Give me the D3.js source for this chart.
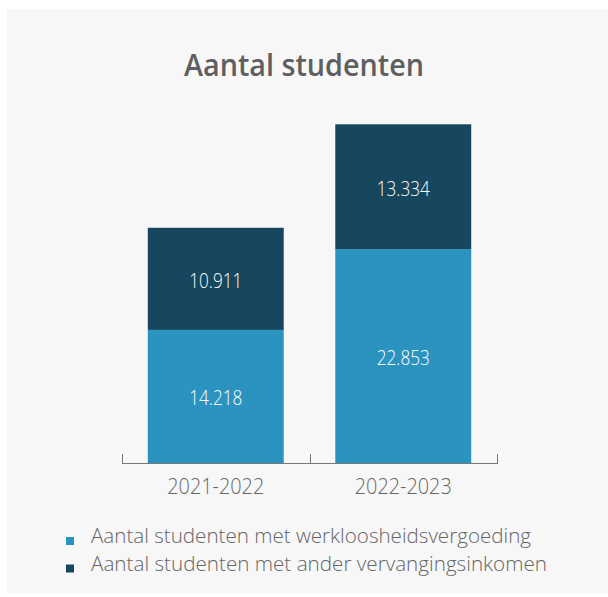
<!DOCTYPE html>
<html>
<head>
<meta charset="utf-8">
<script src="https://cdn.jsdelivr.net/npm/d3@7/dist/d3.min.js"></script>
<style>
  html, body { margin: 0; padding: 0; background: #ffffff; }
  svg { display: block; }
</style>
</head>
<body>
<svg id="chart" width="608" height="597"></svg>
<script>
const categories = ["2021-2022", "2022-2023"];
const werkloosheid = [14218, 22853];
const anderInkomen = [10911, 13334];
const seriesNames = ["Aantal studenten met werkloosheidsvergoeding", "Aantal studenten met ander vervangingsinkomen"];
const title = "Aantal studenten";

const colors = ["#2b93bf", "#17475e"];
const fontFam = "'Open Sans', 'Noto Sans', sans-serif";
const titleFam = "'Open Sans', 'Noto Sans', sans-serif";

const svg = d3.select("#chart");

svg.append("rect").attr("x", 7).attr("y", 9).attr("width", 601).attr("height", 584).attr("fill", "#f7f7f7");

function fitText(sel, target) {
  const w = sel.node().getComputedTextLength();
  if (w > 0) sel.attr("textLength", target).attr("lengthAdjust", "spacingAndGlyphs");
}

const t = svg.append("text")
  .attr("x", 304).attr("y", 76)
  .attr("text-anchor", "middle")
  .attr("font-family", titleFam)
  .attr("font-weight", 600)
  .attr("font-size", 30)
  .attr("fill", "#5f5f5f")
  .text(title);
fitText(t, 240);

const data = categories.map((c, i) => ({ cat: c, values: [werkloosheid[i], anderInkomen[i]] }));
const stack = d3.stack().keys([0, 1]).value((d, k) => d.values[k]);
const stacked = stack(data);

const x = d3.scaleBand().domain(categories).range([122, 497]).paddingInner(0.275).paddingOuter(0.1375);
const y = d3.scaleLinear().domain([0, 40000]).range([463, 88.6]);

const fmt = v => d3.format(",")(v).replace(/,/g, ".");

stacked.forEach((layer, li) => {
  const g = svg.append("g");
  g.selectAll("rect").data(layer).enter().append("rect")
    .attr("x", d => x(d.data.cat))
    .attr("width", x.bandwidth())
    .attr("y", d => y(d[1]))
    .attr("height", d => y(d[0]) - y(d[1]))
    .attr("fill", colors[li]);
  g.selectAll("text").data(layer).enter().append("text")
    .attr("x", d => x(d.data.cat) + x.bandwidth() / 2)
    .attr("y", d => (y(d[0]) + y(d[1])) / 2 + 9)
    .attr("text-anchor", "middle")
    .attr("font-family", fontFam)
    .attr("font-weight", 350)
    .attr("font-size", 21)
    .attr("fill", "#ffffff")
    .text(d => fmt(d[1] - d[0]))
    .each(function() { fitText(d3.select(this), 53); });
});

// axis
const axisG = svg.append("g");
axisG.append("line").attr("x1", x.range()[0]).attr("x2", x.range()[1]).attr("y1", 463.5).attr("y2", 463.5)
  .attr("stroke", "#777").attr("stroke-width", 1);
const tickPos = [x.range()[0]].concat(categories.map(c => x(c) - x.step() * x.paddingInner() / 2).slice(1)).concat([x.range()[1]]);
axisG.selectAll("line.tick").data(tickPos).enter().append("line")
  .attr("class", "tick")
  .attr("x1", d => Math.round(d) + 0.5).attr("x2", d => Math.round(d) + 0.5)
  .attr("y1", 454).attr("y2", 464)
  .attr("stroke", "#777").attr("stroke-width", 1);
axisG.selectAll("text").data(categories).enter().append("text")
  .attr("x", d => x(d) + x.bandwidth() / 2)
  .attr("y", 494)
  .attr("text-anchor", "middle")
  .attr("font-family", fontFam)
  .attr("font-weight", 350)
  .attr("font-size", 22)
  .attr("fill", "#666")
  .text(d => d)
  .each(function() { fitText(d3.select(this), 97); });

// legend
const legendWidths = [440, 456];
const lg = svg.append("g");
seriesNames.forEach((name, i) => {
  const yy = 537 + i * 27.5;
  lg.append("rect").attr("x", 66).attr("y", yy).attr("width", 8).attr("height", 8).attr("fill", colors[i]);
  const lt = lg.append("text")
    .attr("x", 91).attr("y", yy + 6)
    .attr("font-family", fontFam)
    .attr("font-weight", 350)
    .attr("font-size", 21)
    .attr("fill", "#666")
    .text(name);
  fitText(lt, legendWidths[i]);
});
</script>
</body>
</html>
